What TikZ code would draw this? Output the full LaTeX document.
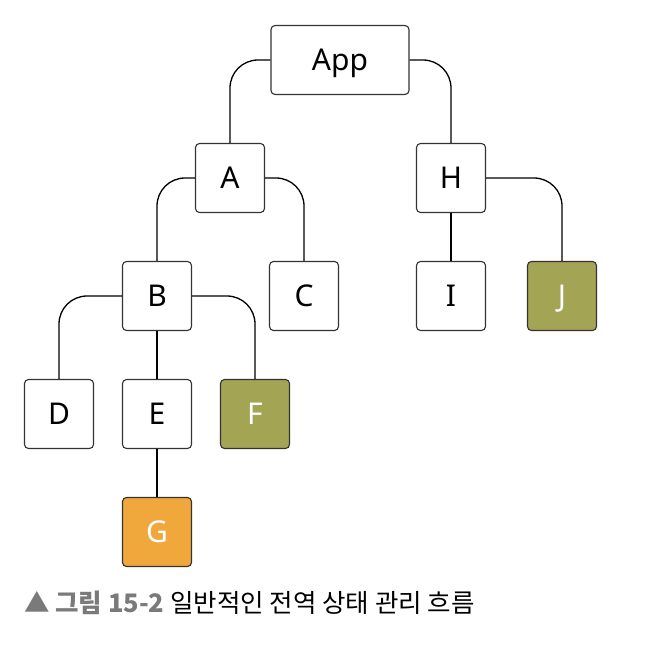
\documentclass[tikz,border=0pt]{standalone}
\usepackage{fontspec}
\setmainfont{Noto Sans}
\newfontfamily\cjk{Noto Sans CJK KR}
\definecolor{olive}{HTML}{A3A555}
\definecolor{orangeG}{HTML}{F0A83C}
\definecolor{capgray}{HTML}{7A7A7A}
\begin{document}
\begin{tikzpicture}[x=1pt,y=-1pt,
  box/.style={draw=black!80,line width=1.1pt,rounded corners=4pt,minimum width=69pt,minimum height=69pt,inner sep=0pt,font=\fontsize{30}{32}\selectfont,text height=21.5pt,text depth=0pt,fill=white},
  wide/.style={box,minimum width=138pt},
  oliv/.style={box,fill=olive,text=white},
  oran/.style={box,fill=orangeG,text=white},
  conn/.style={line width=1.3pt,rounded corners=28pt}]
\useasboundingbox (0,0) rectangle (670,648);
\node[wide] (App) at (340,60) {App};
\node[box] (A) at (230,178) {A};
\node[box] (H) at (451,178) {H};
\node[box] (B) at (157,296) {B};
\node[box] (C) at (304,296) {C};
\node[box] (I) at (451,296) {I};
\node[oliv] (J) at (562,296) {J};
\node[box] (D) at (59,414) {D};
\node[box] (E) at (157,414) {E};
\node[oliv] (F) at (255,414) {F};
\node[oran] (G) at (157,532) {G};
\draw[conn] (App.west) -| (A.north);
\draw[conn] (App.east) -| (H.north);
\draw[conn] (A.west) -| (B.north);
\draw[conn] (A.east) -| (C.north);
\draw[conn] (H.south) -- (I.north);
\draw[conn] (H.east) -| (J.north);
\draw[conn] (B.west) -| (D.north);
\draw[conn] (B.south) -- (E.north);
\draw[conn] (B.east) -| (F.north);
\draw[conn] (E.south) -- (G.north);
\node[anchor=west,inner sep=0pt,font=\cjk\fontsize{25.5}{28}\selectfont] (cap) at (24,603)
  {\textcolor{capgray}{▲ \textbf{그림 15-2}} 일반적인 전역 상태 관리 흐름};
\end{tikzpicture}
\end{document}
